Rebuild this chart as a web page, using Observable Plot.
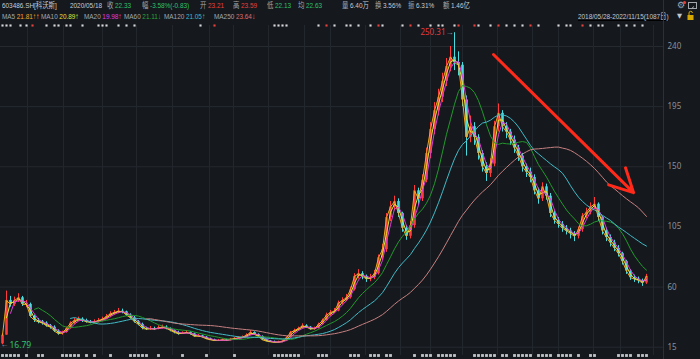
<!DOCTYPE html>
<html><head><meta charset="utf-8">
<script src="https://cdn.jsdelivr.net/npm/d3@7"></script>
<script src="https://cdn.jsdelivr.net/npm/@observablehq/plot@0.6"></script>
<style>
html,body{margin:0;padding:0;background:#15181d;}
#wrap{position:relative;width:700px;height:359px;overflow:hidden;background:#15181d;font-family:"Liberation Sans","Noto Sans CJK SC",sans-serif;}
#head{position:absolute;left:0;top:0;width:700px;height:22px;}
.t{position:absolute;white-space:nowrap;font-size:8px;line-height:11px;transform:scaleX(0.8);transform-origin:0 50%;}
.t .v{margin-left:2px;}
#chart{position:absolute;left:0;top:22px;}
</style></head><body><div id="wrap"><div id="head"></div><div id="chart"></div></div>
<script>
// ---- data: one bar ≈ 6.7 trading days, 2018/05/28 – 2022/11/15 ----
const firstOpen = 17.5;
const closes = [24,50,47,50,52,47,47,38,35,34,
 33,31,30,27,25,26,29,33,35,36,
 35,34,33.5,34,35,36,38,40,41,42,
 41.5,39,37,34,32,29,28.5,29,28.5,29.5,
 30,29,27.5,26,25,25.5,26,25,23,23.5,
 22.5,21.2,20.5,20,20,20.5,20,21,21.5,22,
 22.5,24,26,24.5,23,20.5,19.5,19,18.7,18.8,
 19.5,22,26,27.5,29,31,30,28.5,29,32,
 35,39,41,42,48,50,52,58,68,70,
 68,66,67,70,82,88,112,120,124,115,
 104,98,106,132,126,140,160,178,192,202,
 214,225,232,228,226,200,172,180,172,160,
 150,145,152,180,190,180,176,170,164,158,
 150,146,142,132,126,135,128,115,110,107,
 104,102,100,98,103,113,116,120,122,112,
 102,97,93,89,85,79,72,67,66,65,
 63,68];
const highs = [25,57,53,52.5,55,53,50,48,39,36.5,
 35,34,32,31,28,27,30,34,36.5,37.5,
 37,36,35,35.5,36.5,37.5,39.5,41.5,42.5,44,
 43.5,42,40,38,35,33,30,30.5,30,31,
 31.5,31,29.5,28,27,26.5,27.5,26.5,25.5,24.5,
 24,23,21.8,21,20.8,21.2,21,21.6,22.2,22.8,
 23.4,25,27.5,26.5,25,23.5,21,20,19.6,19.5,
 20.2,22.8,26.8,28.5,30,32.5,31.8,30.5,30,33,
 36,40.5,42.5,44,49.5,52,54.5,60,70,73,
 71.5,69,69.5,72.5,84,92,115,124,128,126,
 116,106,109,136,134,144,164,183,198,208,
 220,231,240,250.31,236,228,203,188,183,174,
 162,153,156,184,197,192,183,178,173,166,
 160,152,149,144,134,138,137,130,117,112,
 109,106,104,101.5,105,115,119,123,127,123,
 113,104,99,95,91,86,80,73,69,67.5,
 66,69.5];
const lows = [16.79,24,45,45.5,48.5,45.5,44.5,37,33.5,32.5,
 31.5,30,28.5,26,24,24,25.5,28.5,32,34,
 33.5,33,32.5,32.5,33,34,35.5,37,39,40,
 40,38,36,33,31,28,27.5,27.5,27.5,28,
 28.5,28,26.5,25,24,24.5,25,24,22.5,22.5,
 21.8,20.8,20,19.5,19.4,19.6,19.5,19.8,20.6,21,
 21.6,22,23.5,24,22.5,20,19,18.5,18.2,18.1,
 18.4,19.2,21.6,25.5,27,28.5,29,27.8,27.8,28.6,
 31.5,34.5,38,40,41.5,46.5,49,51,57,66,
 65.5,63.5,64,65.5,69,80,86,109,117,112,
 101,95,96,104,121,124,138,156,174,188,
 198,210,221,222,218,195,158,168,166,155,
 146,139,142,150,176,176,171,166,160,154,
 146,142,138,129,122,124,125,112,107,104,
 101,99,96,94,96,101,111,114,118,109,
 99,94,90,86.5,82.5,76.5,69.5,65,63.5,62.5,
 60.5,62];
const yTicks = [15,60,105,150,195,240];
const gridBars = [6.25,15.25,25,33.5,42.5,51.75,57.75,66.5,75.5,82,90.75,99.5,107,115,123.75,132.5,139,147.75,154.5,162.75];
const topMarks = [0,1,2,4.5,6,11,13,14,16,17,20,24,25,26,29,31,33,49.5,68,69,70,71,79,83,86,87,89,92,95,100,104,107,109,110,113,119,122,126,128,130,134,139,141,142,147,149,150,154,156,158,160];
const topRedMarks = [7.5,53,81,94,102,114,118,124,132,145];
const bottomMarks = [0,1,2,3,4,6,9,10,15,16,17,18,19,21,23,27,32,33,34,35,36,39,45,51,58,68,69,70,71,72,73,74,79,80,81,87,88,89,92,93,94,96,97,103,105,106,107,109,110,111,112,113,118,119,120,121,122,123,125,126,128,129,130,131,132,134,135,136,137,139,140,141,142,144,147,148,154,155,156,157,159,160,161];
const maNames = ["MA5","MA10","MA20","MA60","MA120","MA250"];
const maBars = [1,2,3,9,18,37];
const maColors = ["#f5a623","#e4e43a","#e03ce0","#1f9a2a","#3fbcc8","#c88080"];
const maValues = ["21.81↑↑","20.89↑","19.98↑","21.11↓","21.05↑","23.64↓"];
const maTextColors = ["#f5a623","#e4e43a","#e03ce0","#2aa83a","#3fbcc8","#e06a6a"];
const peak = {bar:113, value:250.31};
const trough = {bar:0, value:16.79};
const trendArrow = [{x1:122.75, y1:234, x2:157.75, y2:130.7}];
const infoLabels = ["","","收","幅","开","高","低","均","量","换","振","额"];
const infoValues = ["603486.SH[科沃斯]","2020/05/18","22.33","-3.58%(-0.83)","23.21","23.59","22.13","22.63","6.40万","3.56%","6.31%","1.46亿"];
const infoTone = ["name","name","down","down","up","up","down","down","plain","plain","plain","plain"];
const rangeText = "2018/05/28-2022/11/15(1087日)";

// ---- layout ----
const infoX = [2,70,107,142,200,233,267,298,342,375,408,443];
const maX = [2,41,84,124,164,214];
const tones = {name:"#c9cdd2", label:"#a3a8ae", plain:"#c9cdd2", down:"#2fc26a", up:"#e8413b"};
const UP = "#ff3b3b", DOWN = "#48dce0";

const head = document.getElementById("head");
function addGroup(label, value, x, y, color, extra){
  const s = document.createElement("span");
  s.className = "t";
  s.style.left = x + "px"; s.style.top = y + "px";
  if (label) { const a = document.createElement("span"); a.textContent = label; a.style.color = tones.label; s.appendChild(a); }
  const b = document.createElement("span"); b.textContent = value; b.style.color = color;
  if (label) b.className = "v";
  s.appendChild(b);
  if (extra) Object.assign(s.style, extra);
  head.appendChild(s); return s;
}
infoValues.forEach((v,i)=>addGroup(infoLabels[i], v, infoX[i], 0, tones[infoTone[i]]));
maNames.forEach((n,i)=>addGroup(n, maValues[i], maX[i], 11, maTextColors[i]));
addGroup("", rangeText, 578, 11, "#c3c7cc", {textDecoration:"underline"});
addGroup("", "▼", 677, 11, "#c3c7cc", {fontFamily:"DejaVu Sans", fontSize:"6.5px", transform:"none"});
addGroup("", "⚙", 677, 0, "#a3a8ae", {fontFamily:"DejaVu Sans", fontSize:"9px", transform:"none"});
const icons = document.createElementNS("http://www.w3.org/2000/svg","svg");
icons.setAttribute("width","700"); icons.setAttribute("height","22");
icons.style.position="absolute"; icons.style.left="0"; icons.style.top="0";
icons.innerHTML = '<circle cx="684.5" cy="2.5" r="1.6" fill="#e8413b"/>'+
 '<rect x="688.5" y="2.5" width="8" height="6" fill="none" stroke="#a3a8ae" stroke-width="1"/>'+
 '<path d="M691 9 L694 6.5" stroke="#a3a8ae" stroke-width="1"/>'+
 '<rect x="687.5" y="15" width="6" height="5" fill="#d6a800"/>'+
 '<path d="M689 15 V13 a1.7 1.7 0 0 1 3.4 0" fill="none" stroke="#d6a800" stroke-width="1"/>';
head.appendChild(icons);

// ---- derived rows ----
const bars = closes.map((c,i)=>({i, o: i===0 ? firstOpen : closes[i-1], c, h: highs[i], l: lows[i]}));
const candleColor = d => d.c >= d.o ? UP : DOWN;
function movingAverage(k){
  return closes.map((_, i) => ({i, v: i < k-1 ? NaN : d3.mean(closes.slice(i-k+1, i+1))}));
}
const maMarks = maNames.map((n, j) => Plot.line(movingAverage(maBars[j]), {x:"i", y:"v", stroke: maColors[j], strokeWidth: 1}));

const chart = Plot.plot({
  width: 700, height: 337,
  marginTop: 3, marginBottom: 4, marginLeft: 0, marginRight: 37,
  style: {background: "transparent", color: "#8b9199", fontSize: "8px", fontFamily: "Noto Sans, sans-serif", overflow: "visible"},
  x: {type: "linear", domain: [0, 161], range: [2, 646], axis: null},
  y: {domain: [15, 240], range: [324.7, 24], axis: "right", ticks: yTicks, tickSize: 0, tickPadding: 4, label: null, tickFormat: d => String(d)},
  marks: [
    Plot.ruleY(yTicks, {stroke: "#252930", strokeWidth: 1}),
    Plot.ruleX(gridBars, {stroke: "#22262d", strokeWidth: 1}),
    Plot.ruleX(bars, {x: "i", y1: "l", y2: "h", stroke: candleColor, strokeWidth: 1}),
    Plot.ruleX(bars, {x: "i", y1: "o", y2: "c", stroke: candleColor, strokeWidth: 2.6}),
    ...maMarks,
    Plot.arrow(trendArrow, {x1: "x1", y1: "y1", x2: "x2", y2: "y2", stroke: "#ff2a1a", strokeWidth: 3, headLength: 13, headAngle: 55}),
    Plot.text([peak], {x: "bar", y: "value", text: d => d.value.toFixed(2), dx: -9, textAnchor: "end", fill: "#e03a3a", fontSize: 8}),
    Plot.text([peak], {x: "bar", y: "value", text: d => "→", dx: -1, textAnchor: "end", fill: "#9aa0a6", fontSize: 8}),
    Plot.text([trough], {x: "bar", y: "value", text: d => "←", dx: -2, textAnchor: "start", fill: "#9aa0a6", fontSize: 8}),
    Plot.text([trough], {x: "bar", y: "value", text: d => d.value.toFixed(2), dx: 7, textAnchor: "start", fill: "#2fc26a", fontSize: 8.5}),
    Plot.dot(topMarks, {x: d => d, frameAnchor: "top", symbol: "square", r: 1.2, fill: "#d6d8dc"}),
    Plot.dot(topRedMarks, {x: d => d, frameAnchor: "top", symbol: "square", r: 1.2, fill: "#e8413b"}),
    Plot.dot(bottomMarks, {x: d => d, frameAnchor: "bottom", symbol: "square", r: 1.6, fill: "#bfc3c8"})
  ]
});
d3.select(chart).append("line").attr("x1", 663.5).attr("x2", 663.5).attr("y1", -22).attr("y2", 337)
  .attr("stroke", "#2c3038").attr("stroke-width", 1);
document.getElementById("chart").appendChild(chart);
</script></body></html>
